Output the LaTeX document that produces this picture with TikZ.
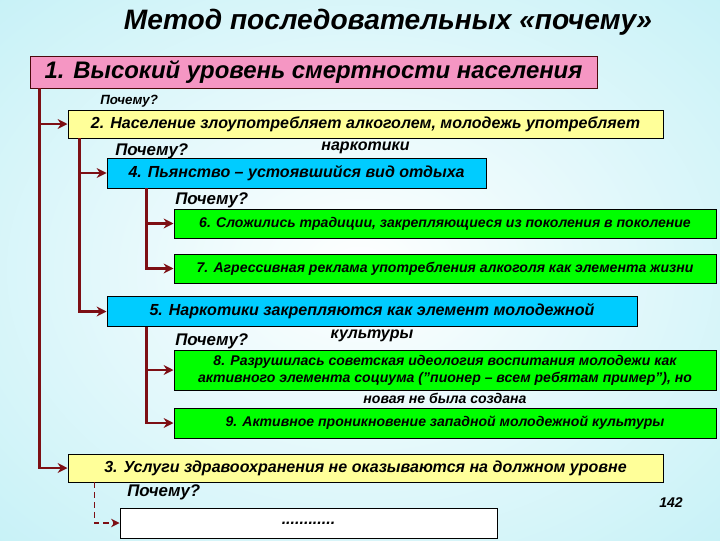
\documentclass[tikz,border=0pt]{standalone}
\usepackage{fontspec}
\setmainfont{Liberation Sans}
\usetikzlibrary{arrows.meta,positioning,calc}
\definecolor{wine}{RGB}{125,15,20}
\definecolor{pinkfill}{RGB}{245,150,195}
\definecolor{yellowfill}{RGB}{255,255,153}
\definecolor{cyanfill}{RGB}{0,204,255}
\definecolor{greenfill}{RGB}{0,255,0}
\definecolor{bgcyan}{RGB}{178,236,244}
\pgfdeclareradialshading{bgshade}{\pgfpoint{0bp}{0bp}}{color(0bp)=(white); color(22bp)=(white!55!bgcyan); color(50bp)=(bgcyan)}

\begin{document}
\begin{tikzpicture}[x=0.025cm, y=-0.025cm,
  block/.style={rectangle, draw=black, line width=0.6pt, inner sep=0pt, align=center, font=\bfseries\itshape\fontsize{11.4}{13}\selectfont},
  ybox/.style={block, fill=yellowfill, minimum width=14.875cm, minimum height=0.7cm},
  cbox/.style={block, fill=cyanfill, minimum height=0.75cm},
  gbox/.style={block, fill=greenfill, minimum width=13.55cm, minimum height=0.725cm, font=\bfseries\itshape\fontsize{10}{12}\selectfont},
  spill/.style={label distance=2pt, inner sep=0pt},
  why/.style={anchor=west, inner sep=0pt, font=\bfseries\itshape\fontsize{12}{14}\selectfont},
  line/.style={draw=wine, line width=2pt, -{Stealth[length=7pt,width=7pt]}},
  dline/.style={draw=wine, line width=1.3pt, dash pattern=on 4pt off 3pt, -{Stealth[length=6pt,width=6pt]}}]

  \useasboundingbox (0,0) rectangle (720,540);
  \shade[shading=bgshade] (0,0) rectangle (720,540);

  \node [inner sep=0pt, font=\bfseries\itshape\fontsize{20}{24}\selectfont] (title) at (388,22) {Метод последовательных «почему»};

  \node [block, fill=pinkfill, draw=wine!60!black, minimum width=14.175cm, minimum height=0.8cm, font=\bfseries\itshape\fontsize{17}{19}\selectfont] (b1) at (313.5,72) {1. Высокий уровень смертности населения};
  \node [why, font=\bfseries\itshape\fontsize{9.5}{11}\selectfont] (why1) at (100,101) {Почему?};
  \node [ybox, label={[spill, font=\bfseries\itshape\fontsize{11.4}{13}\selectfont]below:наркотики}] (b2) at (365.5,124) {2. Население злоупотребляет алкоголем, молодежь употребляет};
  \node [why] (why2) at (115,151) {Почему?};
  \node [cbox, minimum width=9.475cm] (b4) at (296.5,173) {4. Пьянство – устоявшийся вид отдыха};
  \node [why] (why3) at (175,200) {Почему?};
  \node [gbox] (b6) at (445,223.5) {6. Сложились традиции, закрепляющиеся из поколения в поколение};
  \node [gbox] (b7) at (445,268.5) {7. Агрессивная реклама употребления алкоголя как элемента жизни};
  \node [cbox, minimum width=13.25cm, label={[spill, font=\bfseries\itshape\fontsize{11.4}{13}\selectfont]below:культуры}] (b5) at (372,311.5) {5. Наркотики закрепляются как элемент молодежной};
  \node [why] (why4) at (175,341) {Почему?};
  \node [gbox, minimum height=1cm, label={[spill, font=\bfseries\itshape\fontsize{10}{12}\selectfont]below:новая не была создана}] (b8) at (445,370) {8. Разрушилась советская идеология воспитания молодежи как\\активного элемента социума ("пионер – всем ребятам пример"), но};
  \node [gbox, minimum height=0.75cm] (b9) at (445,423) {9. Активное проникновение западной молодежной культуры};
  \node [ybox] (b3) at (365.5,468) {3. Услуги здравоохранения не оказываются на должном уровне};
  \node [why] (why5) at (127,492) {Почему?};
  \node [block, fill=white, minimum width=9.425cm, minimum height=0.75cm] (b10) at (308.5,523) {............};
  \node [inner sep=0pt, font=\bfseries\itshape\fontsize{10}{12}\selectfont] (page) at (671,503) {142};

  \coordinate (s1) at ([xshift=0.25cm]b1.south west);
  \coordinate (s2) at ([xshift=0.3cm]b2.south west);
  \coordinate (s4) at ([xshift=1cm]b4.south west);
  \coordinate (s5) at ([xshift=1cm]b5.south west);
  \coordinate (s3) at ([xshift=0.675cm]b3.south west);

  \path [line] (s1) |- (b2.west);
  \path [line] (s1) |- (b3.west);
  \path [line] (s2) |- (b4.west);
  \path [line] (s2) |- (b5.west);
  \path [line] (s4) |- (b6.west);
  \path [line] (s4) |- (b7.west);
  \path [line] (s5) |- (b8.west);
  \path [line] (s5) |- (b9.west);
  \path [dline] (s3) |- (b10.west);
\end{tikzpicture}
\end{document}
